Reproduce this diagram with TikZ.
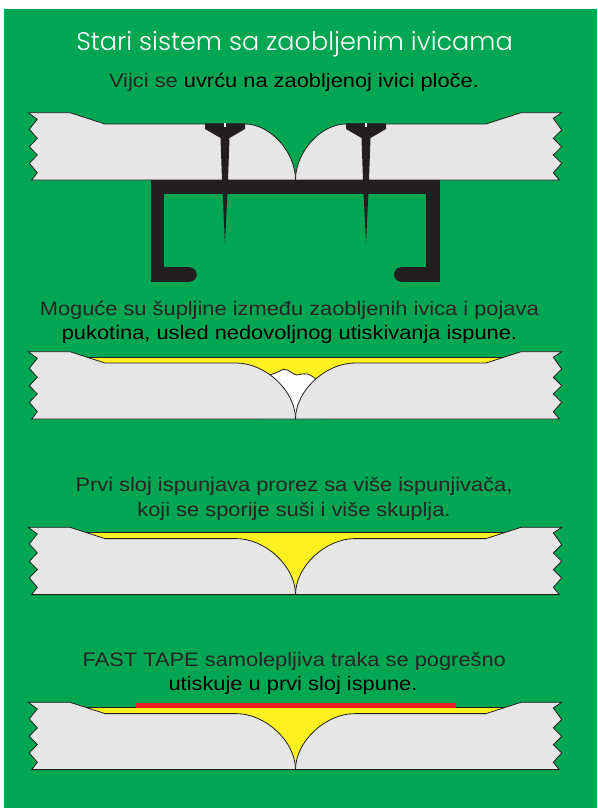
\documentclass[tikz,border=0pt]{standalone}
\usepackage{fontspec}
\setmainfont{Liberation Sans}[FakeStretch=1.12]
\IfFontExistsTF{Poppins Light}
  {\newfontfamily\titlefont{Poppins Light}}
  {\newfontfamily\titlefont{Poppins}}

\definecolor{bggreen}{HTML}{00A651}
\definecolor{ink}{HTML}{231F20}
\definecolor{boardgray}{HTML}{E6E6E6}
\definecolor{filler}{HTML}{FFF11F}
\definecolor{tape}{HTML}{ED1C24}
\definecolor{textgray}{HTML}{262626}

% Two boards meeting with rounded edges.
% #1 = y of the outer top face, #2 = x where the left rounded edge begins
\newcommand\boardpair[2]{%
  \pgfmathsetmacro\bdT{#1}%
  \pgfmathsetmacro\bdF{#1+11.3}%
  \pgfmathsetmacro\bdB{#1+67.3}%
  \pgfmathsetmacro\bdC{#1+39.3}%
  \pgfmathsetmacro\bdLh{#2+0.5*(295.5-#2)}%
  \pgfmathsetmacro\bdR{591-#2}%
  \pgfmathsetmacro\bdRh{591-\bdLh}%
  \filldraw[board] (28.3,\bdT) -- (70,\bdT) -- (105,\bdF) -- (#2,\bdF)
    .. controls (\bdLh,\bdF) and (295.5,\bdC) .. (295.5,\bdB)
    -- (31.7,\bdB) -- (37.3,{\bdT+60}) -- (29.3,{\bdT+50.6})
    -- (37.3,{\bdT+42.3}) -- (29.3,{\bdT+34}) -- (37.3,{\bdT+25.6})
    -- (29.3,{\bdT+16.6}) -- (37.3,{\bdT+6.6}) -- cycle;
  \filldraw[board] (295.5,\bdB) .. controls (295.5,\bdC) and (\bdRh,\bdF)
    .. (\bdR,\bdF) -- (486,\bdF) -- (521,\bdT) -- (561.7,\bdT)
    -- (553.3,{\bdT+5.6}) -- (561.7,{\bdT+17.3}) -- (553.3,{\bdT+25.6})
    -- (561.7,{\bdT+34}) -- (553.3,{\bdT+42.3}) -- (561.7,{\bdT+50.6})
    -- (553.3,{\bdT+60}) -- (559.3,\bdB) -- cycle;
}

% Filler layer laid into the joint: #1 = y of the outer top face
\newcommand\fillerbed[1]{%
  \fill[filler] (87,{#1+5.5}) rectangle (504,{#1+67.3});
}
\newcommand\fillertop[1]{%
  \draw[outline] (87,{#1+5.5}) -- (504,{#1+5.5});
}

% Screw driven through a board, #1 = x of its axis
\newcommand\screwat[1]{%
  \fill[ink] ({#1-20},123.3) -- ({#1+20},123.3) -- ({#1+20},129)
    -- ({#1+4.5},138) -- ({#1+3},180) -- (#1,244) -- ({#1-3},180)
    -- ({#1-4.5},138) -- ({#1-20},129) -- cycle;
  \fill[white] ({#1-1.3},123.3) rectangle ({#1+1.3},127.3);
}

\begin{document}
\begin{tikzpicture}[x=1pt,y=-1pt,
  board/.style={fill=boardgray,draw=ink,line width=0.8pt,line join=miter},
  outline/.style={draw=ink,line width=0.8pt},
  caption/.style={anchor=base,inner sep=0pt,font=\fontsize{19.5}{24}\selectfont},
  heading/.style={anchor=base,inner sep=0pt,text=white,font=\titlefont\fontsize{25.5}{30}\selectfont}]

\useasboundingbox (0,0) rectangle (597,808);
\fill[white] (0,0) rectangle (597,808);
\fill[bggreen] (4,9) rectangle (597,808);

% ---------- heading ----------
\node[heading] (title) at (294.5,51) {Stari sistem sa zaobljenim ivicama};

% ---------- 1: screws in the rounded edges ----------
\node[caption] (cap1) at (294,87.3) {\textcolor{textgray}{Vijci se} uvrću na zaobljenoj ivici ploče.};
\boardpair{112.7}{245}
% U-shaped support profile
\fill[ink] (150.7,180) rectangle (440,194);
\fill[ink] (150.7,180) rectangle (164.3,281.7);
\fill[ink] (150.7,267.3) rectangle (189.5,281.7);
\fill[ink] (189.5,274.5) circle[radius=7.2];
\fill[ink] (426,180) rectangle (440,281.7);
\fill[ink] (401.2,267.3) rectangle (440,281.7);
\fill[ink] (401.2,274.5) circle[radius=7.2];
\screwat{225}
\screwat{366}

% ---------- 2: voids under the filler ----------
\node[caption, text=textgray] (cap2a) at (289.3,315.5) {Moguće su šupljine između zaobljenih ivica i pojava};
\node[caption] (cap2b) at (289.5,339) {pukotina, usled nedovoljnog utiskivanja ispune.};
\fillerbed{351.7}
\fill[white] plot[smooth] coordinates {(262,377) (271.7,374.3) (278.3,371.7) (283.3,369.3)
    (287.3,370) (291.7,372.7) (296.7,375) (301.7,374) (307.3,374) (311.7,376) (315,378.3) (322,384)}
  -- (322,419) -- (262,419) -- cycle;
\draw[outline] plot[smooth] coordinates {(262,377) (271.7,374.3) (278.3,371.7) (283.3,369.3)
    (287.3,370) (291.7,372.7) (296.7,375) (301.7,374) (307.3,374) (311.7,376) (315,378.3) (322,384)};
\boardpair{351.7}{236}
\fillertop{351.7}

% ---------- 3: first filler layer ----------
\node[caption, text=textgray] (cap3a) at (294,491.7) {Prvi sloj ispunjava prorez sa više ispunjivača,};
\node[caption, text=textgray] (cap3b) at (294,516.7) {koji se sporije suši i više skuplja.};
\fillerbed{527.3}
\boardpair{527.3}{236}
\fillertop{527.3}

% ---------- 4: tape pressed into the first layer ----------
\node[caption] (cap4a) at (294.3,666.7) {\textcolor{textgray}{FAST TAPE samolepljiva traka se pogrešno}};
\node[caption] (cap4b) at (293,690.7) {utiskuje u prvi sloj ispune.};
\fillerbed{702.3}
\boardpair{702.3}{236}
\fillertop{702.3}
\fill[tape] (136.3,703.3) rectangle (456,707.8);

\end{tikzpicture}
\end{document}
